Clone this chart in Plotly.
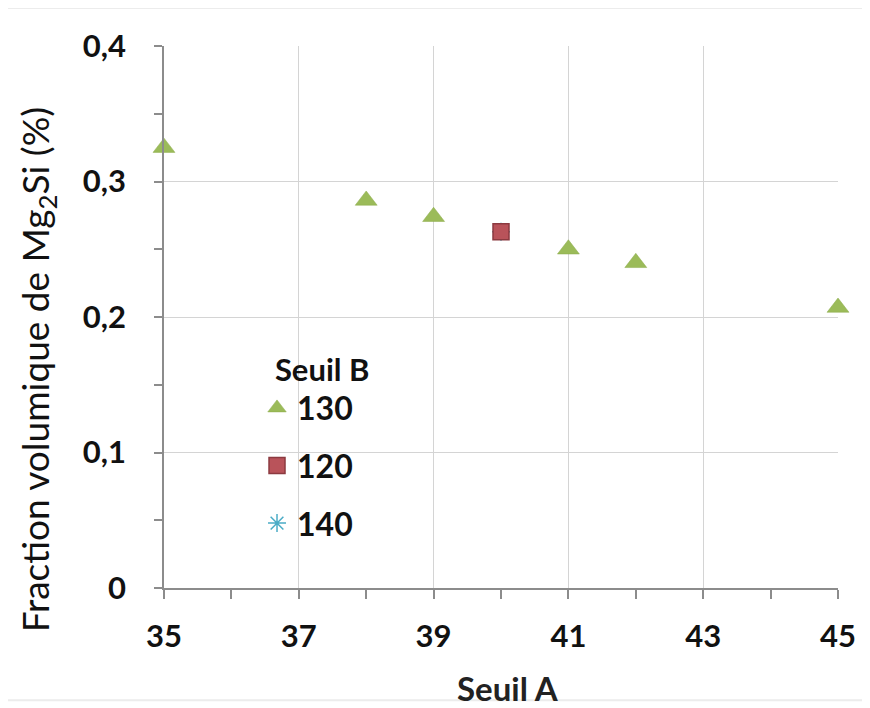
import plotly.graph_objects as go

# Data
seuil_a_130 = [35, 38, 39, 41, 42, 45]
frac_130 = [0.325, 0.286, 0.274, 0.250, 0.240, 0.207]
seuil_a_120 = [40]
frac_120 = [0.263]
seuil_a_140 = [40]
frac_140 = [0.263]

x_tickvals = [35, 37, 39, 41, 43, 45]
x_ticktext = ["35", "37", "39", "41", "43", "45"]
y_tickvals = [0, 0.1, 0.2, 0.3, 0.4]
y_ticktext = ["0", "0,1", "0,2", "0,3", "0,4"]

x_title = "<b>Seuil A</b>"
y_title = "Fraction volumique de Mg<sub>2</sub>Si (%)"
legend_title = "<b>Seuil B</b>"

FONT = "Lato"

fig = go.Figure()
fig.add_trace(go.Scatter(
    x=seuil_a_130, y=frac_130, mode="markers", name="<b>130</b>",
    legendgroup="a", legendrank=1, cliponaxis=False,
    marker=dict(symbol="triangle-up", size=19, color="#9BBB59",
                line=dict(width=0.5, color="#8AAA48"))))
fig.add_trace(go.Scatter(
    x=seuil_a_140, y=frac_140, mode="markers", name="<b>140</b>",
    legendgroup="c", legendrank=3, cliponaxis=False,
    marker=dict(symbol="asterisk", size=15, color="#4BACC6",
                line=dict(width=1.5, color="#4BACC6"))))
fig.add_trace(go.Scatter(
    x=seuil_a_120, y=frac_120, mode="markers", name="<b>120</b>",
    legendgroup="b", legendrank=2, cliponaxis=False,
    marker=dict(symbol="square", size=16, color="#B9535A",
                line=dict(width=1.5, color="#8C3A40"))))

axis_line = "#8c8c8c"
grid = "#d4d4d4"

fig.update_xaxes(
    range=[35, 45], tickvals=x_tickvals, ticktext=x_ticktext,
    showgrid=True, gridcolor=grid, gridwidth=1,
    showline=True, linecolor=axis_line, linewidth=1.5,
    ticks="outside", ticklen=9, tickcolor=axis_line, tickwidth=1.5,
    minor=dict(dtick=1, ticks="outside", ticklen=9, tickcolor=axis_line, tickwidth=1.5, showgrid=False),
    tickfont=dict(family=FONT, size=31, color="#111111", weight="bold"),
    ticklabelstandoff=11,
    zeroline=False,
)
fig.update_yaxes(
    range=[0, 0.4], tickvals=y_tickvals, ticktext=y_ticktext,
    showgrid=True, gridcolor=grid, gridwidth=1,
    showline=True, linecolor=axis_line, linewidth=1.5,
    ticks="outside", ticklen=8, tickcolor=axis_line, tickwidth=1.5,
    minor=dict(dtick=0.05, ticks="outside", ticklen=8, tickcolor=axis_line, tickwidth=1.5, showgrid=False),
    tickfont=dict(family=FONT, size=31, color="#111111", weight="bold"),
    ticklabelstandoff=22,
    zeroline=False,
)

fig.update_layout(
    width=862, height=700,
    margin=dict(l=156, r=32, t=38, b=120),
    paper_bgcolor="white", plot_bgcolor="white",
    showlegend=True,
    legend=dict(
        x=0.138, y=0.457, xanchor="left", yanchor="top",
        bgcolor="rgba(0,0,0,0)",
        title=dict(text="\u00a0\u00a0" + legend_title,
                   font=dict(family=FONT, size=31, color="#111111")),
        font=dict(family=FONT, size=32, color="#111111"),
        tracegroupgap=13, itemwidth=30,
    ),
    annotations=[
        dict(text=y_title, xref="paper", yref="paper", x=-0.188, y=0.404,
             xanchor="center", yanchor="middle", textangle=-90, showarrow=False,
             font=dict(family=FONT, size=37, color="#111111")),
        dict(text=x_title, xref="paper", yref="paper", x=0.51, y=-0.1845,
             xanchor="center", yanchor="middle", showarrow=False,
             font=dict(family=FONT, size=33, color="#222222")),
    ],
    shapes=[dict(type="rect", xref="paper", yref="paper",
                 x0=-0.234, x1=1.039, y0=-0.207, y1=1.07,
                 line=dict(color="#ececec", width=2))],
)

fig.write_html("out.html")
